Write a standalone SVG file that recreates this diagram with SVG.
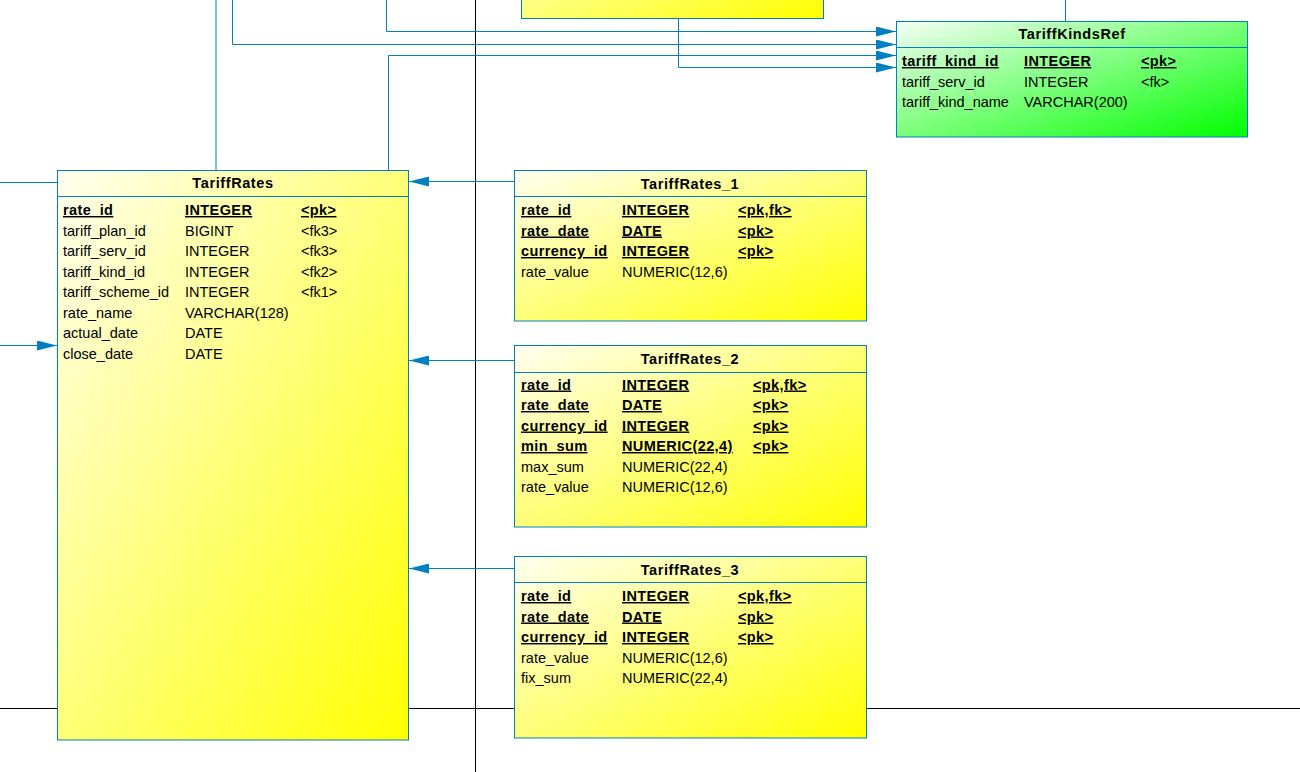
<svg xmlns="http://www.w3.org/2000/svg" width="1300" height="772" viewBox="0 0 1300 772">
<style>
.page{stroke:#000;stroke-width:1;fill:none}
.box{stroke:#0080C0;stroke-width:1}
.sep{stroke:#0080C0;stroke-width:1}
.conn{stroke:#0080C0;stroke-width:1;fill:none}
.t{font-family:"Liberation Sans",Arial,sans-serif;font-size:14.5px;fill:#000}
.title{font-weight:bold;text-anchor:middle;letter-spacing:0.6px}
.pk{font-weight:bold;text-decoration:underline;letter-spacing:0.4px}
</style>
<defs>
<linearGradient id="yel" x1="0" y1="0" x2="1" y2="1">
<stop offset="0" stop-color="#FFFFF0"/>
<stop offset="1" stop-color="#FFFF00"/>
</linearGradient>
<linearGradient id="grn" x1="0" y1="0" x2="1" y2="1">
<stop offset="0" stop-color="#F4FFF4"/>
<stop offset="1" stop-color="#00FF00"/>
</linearGradient>
<marker id="arr" markerWidth="20" markerHeight="10" refX="20" refY="5" orient="auto" markerUnits="userSpaceOnUse">
<path d="M0,0 L20,5 L0,10 Z" fill="#0080C0"/>
</marker>
</defs>
<rect width="1300" height="772" fill="#fff"/>
<g id="page-borders">
<line class="page" x1="475.5" y1="0" x2="475.5" y2="772"/>
<line class="page" x1="0" y1="708.5" x2="1300" y2="708.5"/>
</g>
<g id="connectors">
<polyline class="conn" points="216,0 216,170.5"/>
<polyline class="conn" points="232.5,0 232.5,44.5 896,44.5" marker-end="url(#arr)"/>
<polyline class="conn" points="386.5,0 386.5,31.5 896,31.5" marker-end="url(#arr)"/>
<polyline class="conn" points="388.5,170.5 388.5,55.5 896,55.5" marker-end="url(#arr)"/>
<polyline class="conn" points="678.5,18.5 678.5,67.5 896,67.5" marker-end="url(#arr)"/>
<polyline class="conn" points="1065.5,0 1065.5,21.5"/>
<polyline class="conn" points="0,182.5 57.5,182.5"/>
<polyline class="conn" points="0,345.5 57,345.5" marker-end="url(#arr)"/>
<polyline class="conn" points="514.5,181.5 409,181.5" marker-end="url(#arr)"/>
<polyline class="conn" points="514.5,360.5 409,360.5" marker-end="url(#arr)"/>
<polyline class="conn" points="514.5,568.5 409,568.5" marker-end="url(#arr)"/>
</g>
<g id="top-table">
<rect class="box" x="521.5" y="-120" width="302" height="138.5" fill="url(#yel)"/>
</g>
<g id="TariffKindsRef">
<rect class="box" x="896.5" y="21.5" width="351" height="115.5" fill="url(#grn)"/>
<line class="sep" x1="896.5" y1="47.5" x2="1247.5" y2="47.5"/>
<text class="t title" x="1072" y="38.5">TariffKindsRef</text>
<text class="t pk" x="902" y="66">tariff_kind_id</text><text class="t pk" x="1024" y="66">INTEGER</text><text class="t pk" x="1141" y="66">&lt;pk&gt;</text>
<text class="t" x="902" y="86.5">tariff_serv_id</text><text class="t" x="1024" y="86.5">INTEGER</text><text class="t" x="1141" y="86.5">&lt;fk&gt;</text>
<text class="t" x="902" y="107">tariff_kind_name</text><text class="t" x="1024" y="107">VARCHAR(200)</text>
</g>
<g id="TariffRates">
<rect class="box" x="57.5" y="170.5" width="351" height="569.5" fill="url(#yel)"/>
<line class="sep" x1="57.5" y1="196.5" x2="408.5" y2="196.5"/>
<text class="t title" x="233" y="188">TariffRates</text>
<text class="t pk" x="63" y="215">rate_id</text><text class="t pk" x="185" y="215">INTEGER</text><text class="t pk" x="301" y="215">&lt;pk&gt;</text>
<text class="t" x="63" y="235.5">tariff_plan_id</text><text class="t" x="185" y="235.5">BIGINT</text><text class="t" x="301" y="235.5">&lt;fk3&gt;</text>
<text class="t" x="63" y="256">tariff_serv_id</text><text class="t" x="185" y="256">INTEGER</text><text class="t" x="301" y="256">&lt;fk3&gt;</text>
<text class="t" x="63" y="276.5">tariff_kind_id</text><text class="t" x="185" y="276.5">INTEGER</text><text class="t" x="301" y="276.5">&lt;fk2&gt;</text>
<text class="t" x="63" y="297">tariff_scheme_id</text><text class="t" x="185" y="297">INTEGER</text><text class="t" x="301" y="297">&lt;fk1&gt;</text>
<text class="t" x="63" y="317.5">rate_name</text><text class="t" x="185" y="317.5">VARCHAR(128)</text>
<text class="t" x="63" y="338">actual_date</text><text class="t" x="185" y="338">DATE</text>
<text class="t" x="63" y="358.5">close_date</text><text class="t" x="185" y="358.5">DATE</text>
</g>
<g id="TariffRates_1">
<rect class="box" x="514.5" y="170.5" width="352" height="150.5" fill="url(#yel)"/>
<line class="sep" x1="514.5" y1="196.5" x2="866.5" y2="196.5"/>
<text class="t title" x="690" y="189">TariffRates_1</text>
<text class="t pk" x="521" y="215">rate_id</text><text class="t pk" x="622" y="215">INTEGER</text><text class="t pk" x="738" y="215">&lt;pk,fk&gt;</text>
<text class="t pk" x="521" y="235.5">rate_date</text><text class="t pk" x="622" y="235.5">DATE</text><text class="t pk" x="738" y="235.5">&lt;pk&gt;</text>
<text class="t pk" x="521" y="256">currency_id</text><text class="t pk" x="622" y="256">INTEGER</text><text class="t pk" x="738" y="256">&lt;pk&gt;</text>
<text class="t" x="521" y="276.5">rate_value</text><text class="t" x="622" y="276.5">NUMERIC(12,6)</text>
</g>
<g id="TariffRates_2">
<rect class="box" x="514.5" y="345.5" width="352" height="181.5" fill="url(#yel)"/>
<line class="sep" x1="514.5" y1="372.5" x2="866.5" y2="372.5"/>
<text class="t title" x="690" y="364">TariffRates_2</text>
<text class="t pk" x="521" y="389.5">rate_id</text><text class="t pk" x="622" y="389.5">INTEGER</text><text class="t pk" x="753" y="389.5">&lt;pk,fk&gt;</text>
<text class="t pk" x="521" y="410">rate_date</text><text class="t pk" x="622" y="410">DATE</text><text class="t pk" x="753" y="410">&lt;pk&gt;</text>
<text class="t pk" x="521" y="430.5">currency_id</text><text class="t pk" x="622" y="430.5">INTEGER</text><text class="t pk" x="753" y="430.5">&lt;pk&gt;</text>
<text class="t pk" x="521" y="451">min_sum</text><text class="t pk" x="622" y="451">NUMERIC(22,4)</text><text class="t pk" x="753" y="451">&lt;pk&gt;</text>
<text class="t" x="521" y="471.5">max_sum</text><text class="t" x="622" y="471.5">NUMERIC(22,4)</text>
<text class="t" x="521" y="492">rate_value</text><text class="t" x="622" y="492">NUMERIC(12,6)</text>
</g>
<g id="TariffRates_3">
<rect class="box" x="514.5" y="556.5" width="352" height="181.5" fill="url(#yel)"/>
<line class="sep" x1="514.5" y1="582.5" x2="866.5" y2="582.5"/>
<text class="t title" x="690" y="575">TariffRates_3</text>
<text class="t pk" x="521" y="601">rate_id</text><text class="t pk" x="622" y="601">INTEGER</text><text class="t pk" x="738" y="601">&lt;pk,fk&gt;</text>
<text class="t pk" x="521" y="621.5">rate_date</text><text class="t pk" x="622" y="621.5">DATE</text><text class="t pk" x="738" y="621.5">&lt;pk&gt;</text>
<text class="t pk" x="521" y="642">currency_id</text><text class="t pk" x="622" y="642">INTEGER</text><text class="t pk" x="738" y="642">&lt;pk&gt;</text>
<text class="t" x="521" y="662.5">rate_value</text><text class="t" x="622" y="662.5">NUMERIC(12,6)</text>
<text class="t" x="521" y="683">fix_sum</text><text class="t" x="622" y="683">NUMERIC(22,4)</text>
</g>
</svg>
